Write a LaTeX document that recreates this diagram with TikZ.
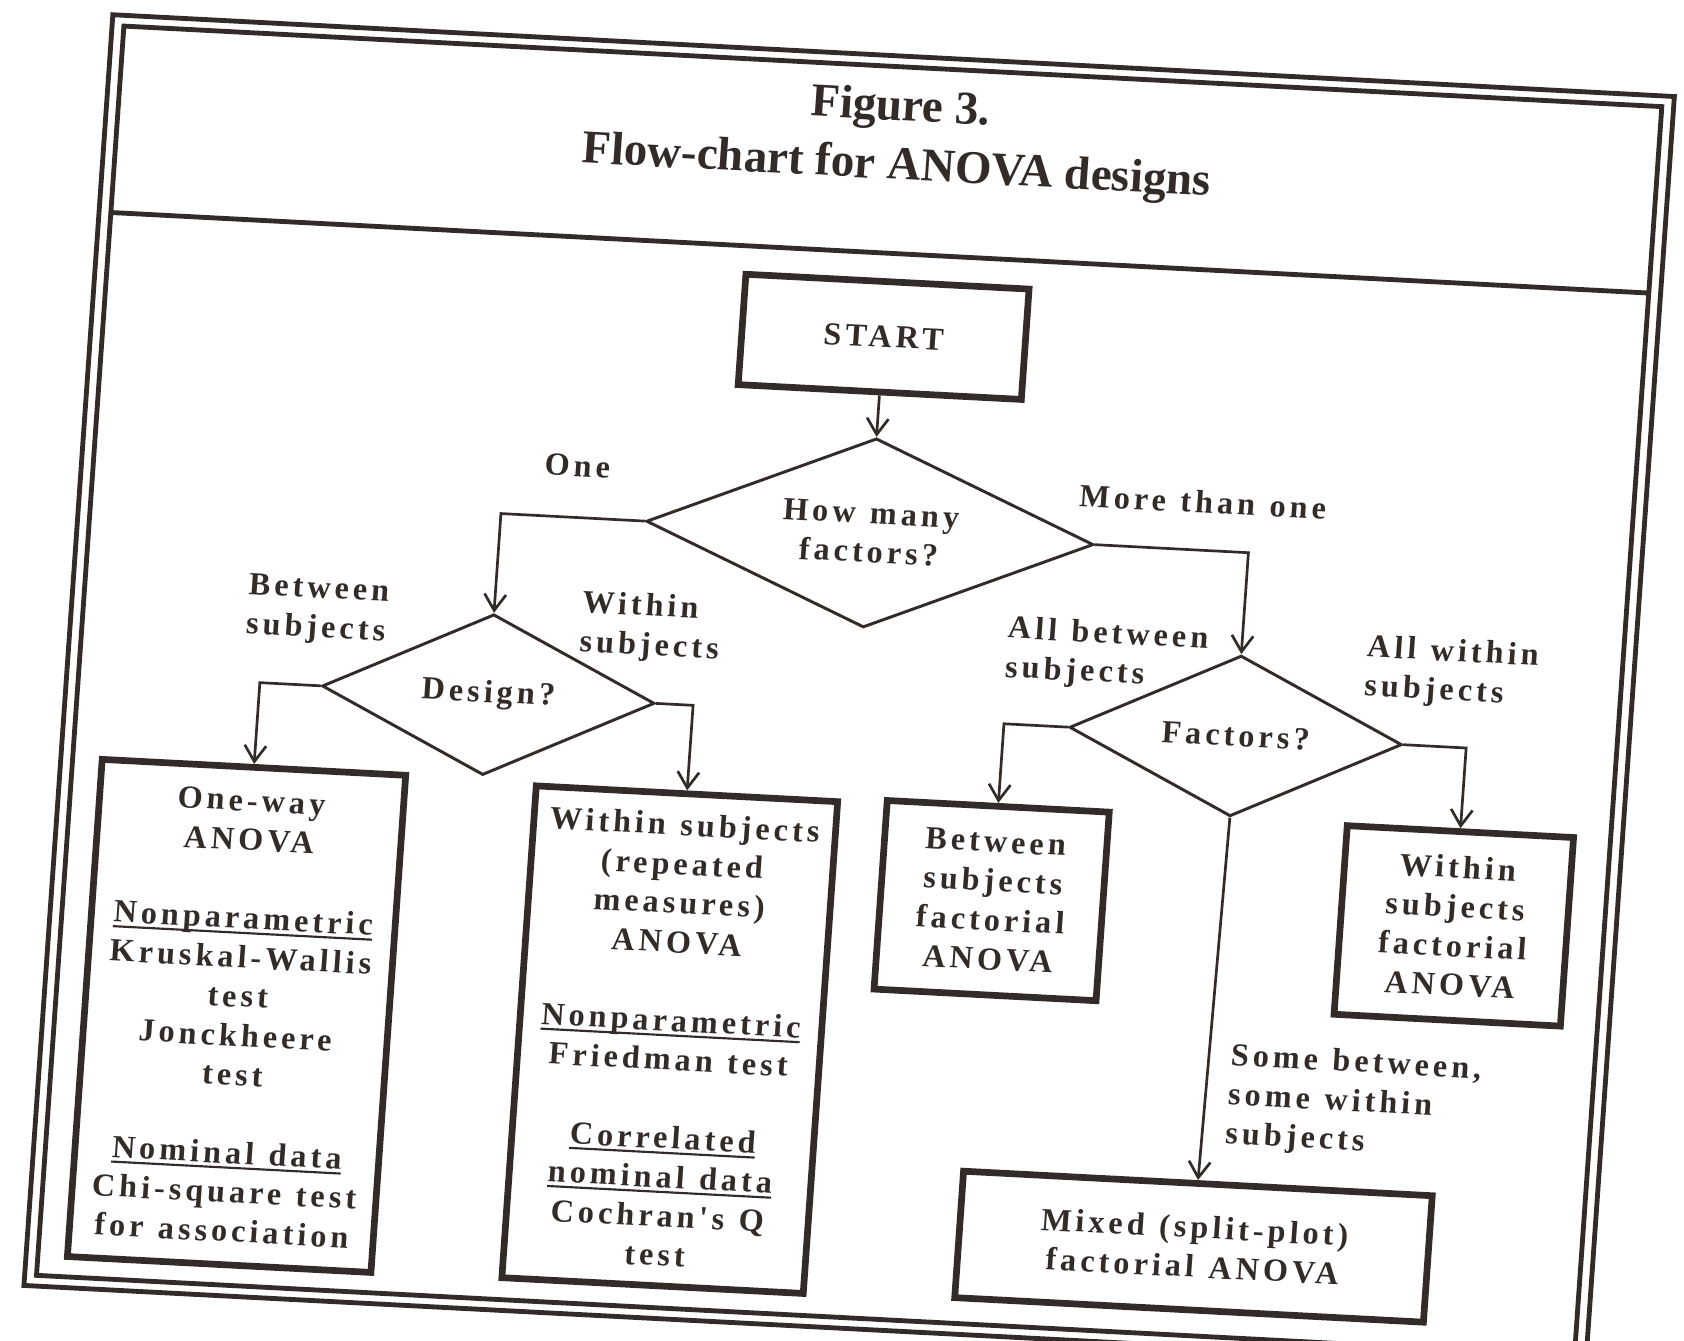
\documentclass[tikz,border=0pt]{standalone}
\usepackage{fontspec}
\setmainfont{Liberation Serif}
\newfontfamily\chartfont[LetterSpace=12.5,WordSpace=1.2]{Liberation Serif}
\usetikzlibrary{shapes.geometric,arrows.meta}
\definecolor{ink}{RGB}{50,43,40}
\newcommand{\ulined}[1]{\setbox0\hbox{#1}\rlap{\rule[-2pt]{\wd0}{0.8pt}}\box0}
\tikzset{
  titletext/.style={align=center,inner sep=0pt,font=\fontsize{17.5}{22}\selectfont\bfseries},
  box/.style={draw,line width=2.5pt,align=center,inner sep=0pt,font=\chartfont\fontsize{12}{14.6}\selectfont\bfseries},
  decision/.style={diamond,draw,line width=1.1pt,align=center,inner sep=0pt,font=\chartfont\fontsize{12}{14.6}\selectfont\bfseries},
  lbl/.style={anchor=west,align=left,inner sep=0pt,font=\chartfont\fontsize{12}{14.6}\selectfont\bfseries},
  link/.style={->,line width=1pt}
}
\begin{document}
\begin{tikzpicture}[x=0.4pt,y=-0.4pt,>={Straight Barb[length=6pt,width=8pt]},color=ink]
\useasboundingbox (0,0) rectangle (1568,1248);
\begin{scope}[shift={(784,624)},cm={0.9986,-0.0523,0.0698,0.9976,(0,0)},shift={(-784,-624)},every node/.append style={transform shape}]
\draw[line width=1.8pt] (64,50) rectangle (1520,1236) (75,60) rectangle (1509,1226) (75,234) -- (1509,234);
\node[titletext] (title) at (802,127) {Figure 3.\\Flow-chart for ANOVA designs};
\node[box,minimum width=105.6pt,minimum height=41.2pt] (start) at (801,312) {START};
\node[decision,aspect=2.4,minimum width=166.8pt,minimum height=70.6pt] (q1) at (801,495) {How many\\factors?};
\node[decision,aspect=2,minimum width=124pt,minimum height=60pt] (q2) at (457,664) {Design?};
\node[decision,aspect=2,minimum width=124pt,minimum height=60pt] (q3) at (1154,666) {Factors?};
\node[box,minimum width=113.2pt,minimum height=185.6pt] (b1) at (244,975) {One-way\\ANOVA\\[14.6pt]\ulined{Nonparametric}\\Kruskal-Wallis\\test\\Jonckheere\\test\\[14.6pt]\ulined{Nominal data}\\Chi-square test\\for association};
\node[box,minimum width=112.4pt,minimum height=183.6pt] (b2) at (648,976) {Within subjects\\(repeated\\measures)\\ANOVA\\[14.6pt]\ulined{Nonparametric}\\Friedman test\\[14.6pt]\ulined{Correlated}\\\ulined{nominal data}\\Cochran's Q\\test};
\node[box,minimum width=82.8pt,minimum height=70.4pt] (b3) at (938,831) {Between\\subjects\\factorial\\ANOVA};
\node[box,minimum width=84.4pt,minimum height=70.4pt] (b4) at (1369,832) {Within\\subjects\\factorial\\ANOVA};
\node[box,minimum width=174.8pt,minimum height=47.2pt] (b5) at (1148,1143) {Mixed (split-plot)\\factorial ANOVA};
\node[lbl] (one) at (494,447) {One};
\node[lbl] (more) at (993,450) {More than one};
\node[lbl] (bs) at (227,594) {Between\\subjects};
\node[lbl] (ws) at (538,594) {Within\\subjects};
\node[lbl] (ab) at (935,597) {All between\\subjects};
\node[lbl] (aw) at (1270,597) {All within\\subjects};
\node[lbl] (sw) at (1170,1002) {Some between,\\some within\\subjects};
\coordinate (qa) at (457,495);
\coordinate (qb) at (1154,495);
\coordinate (da) at (244,664);
\coordinate (db) at (648,664);
\coordinate (fa) at (938,666);
\coordinate (fb) at (1369,666);
\draw[link] (start) -- (q1);
\draw[link] (q1.west) -- (qa) -- (q2.north);
\draw[link] (q1.east) -- (qb) -- (q3.north);
\draw[link] (q2.west) -- (da) -- (b1.north);
\draw[link] (q2.east) -- (db) -- (b2.north);
\draw[link] (q3.west) -- (fa) -- (b3.north);
\draw[link] (q3.east) -- (fb) -- (b4.north);
\draw[link] (q3.south) -- (b5.north);
\end{scope}
\end{tikzpicture}
\end{document}
